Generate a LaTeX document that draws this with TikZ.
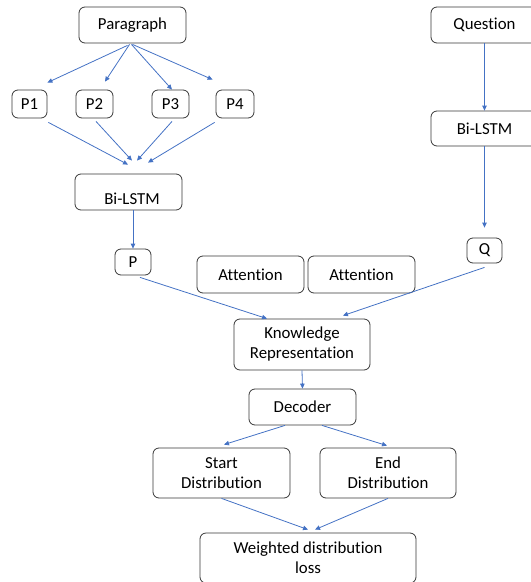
\documentclass[tikz,border=0pt]{standalone}
\usepackage{fontspec}
\setmainfont[Ligatures={NoCommon}]{Carlito}
\usetikzlibrary{arrows.meta,calc}
\definecolor{arrblue}{RGB}{68,114,196}
\definecolor{boxline}{RGB}{55,55,55}
\begin{document}
\begin{tikzpicture}[x=1pt,y=-1pt,
  box/.style={draw=boxline,line width=0.8pt,rounded corners=6pt,inner sep=0pt,
    align=center,font=\fontsize{16.8}{20}\selectfont},
  arr/.style={draw=arrblue,line width=0.8pt,-{Triangle[length=5pt,width=4.5pt]}}]
\useasboundingbox (0,0) rectangle (531,582);
% nodes
\node[box,minimum width=107pt,minimum height=36pt] (para) at (132.5,25) {Paragraph};
\node[box,minimum width=107pt,minimum height=36pt] (ques) at (484.5,25) {Question};
\node[box,minimum width=35pt,minimum height=28pt] (p1) at (29.5,104) {P1};
\node[box,minimum width=37pt,minimum height=28pt] (p2) at (94.5,104) {P2};
\node[box,minimum width=37pt,minimum height=28pt] (p3) at (170.5,104) {P3};
\node[box,minimum width=38pt,minimum height=28pt] (p4) at (235,104) {P4};
\node[box,minimum width=107pt,minimum height=36pt,text height=24pt,text depth=0pt] (bl) at (128.5,192) {\hspace*{7pt}Bi-LSTM};
\node[box,minimum width=107pt,minimum height=35pt] (br) at (484.5,128.5) {Bi-LSTM};
\node[box,minimum width=36pt,minimum height=26pt] (pp) at (133,262) {P};
\node[box,minimum width=35pt,minimum height=25pt] (qq) at (484.5,250.5) {Q};
\node[box,minimum width=107pt,minimum height=37pt] (att1) at (250.5,274.5) {Attention};
\node[box,minimum width=107pt,minimum height=37pt] (att2) at (361.5,274.5) {Attention};
\node[box,minimum width=136pt,minimum height=51pt] (kr) at (302,344.5) {Knowledge\\Representation};
\node[box,minimum width=107pt,minimum height=36pt] (dec) at (302.5,407) {Decoder};
\node[box,minimum width=137pt,minimum height=50pt] (sd) at (221.5,473) {Start\\Distribution};
\node[box,minimum width=136pt,minimum height=50pt] (ed) at (388,473) {End\\Distribution};
\node[box,minimum width=216pt,minimum height=50pt] (wl) at (308,558) {Weighted distribution\\loss};
% connectors
\draw[arr] ($(para.south)+(-5,2)$) -- ($(p1.north east)+(0,-7)$);
\draw[arr] ($(para.south)+(-3,1)$) -- ($(p2.north)+(10.5,-8)$);
\draw[arr] ($(para.south)+(-1,1)$) -- ($(p3.north)+(1.5,0)$);
\draw[arr] ($(para.south)+(0,1)$) -- ($(p4.north west)+(-3,-10)$);
\draw[arr] ($(p1.south east)+(1,4)$) -- ($(bl.north)+(-0.5,-9)$);
\draw[arr] ($(p2.south)+(1.5,3)$) -- ($(bl.north)+(3.5,-13)$);
\draw[arr] ($(p3.south)+(1.5,3)$) -- ($(bl.north)+(8.5,-13)$);
\draw[arr] ($(p4.south west)+(-1,4)$) -- ($(bl.north)+(19.5,-11)$);
\draw[arr] ($(bl.south)+(4.5,0)$) -- (pp.north);
\draw[arr] (ques.south) -- (br.north);
\draw[arr] (br.south) -- ($(qq.north)+(0,-10)$);
\draw[arr] ($(pp.south)+(7,2)$) -- ($(kr.north)+(-35,0)$);
\draw[arr] ($(qq.south)+(0,4)$) -- ($(kr.north)+(41,-3)$);
\draw[arr] (kr.south) -- (dec.north);
\draw[arr] ($(dec.south)+(-17.5,0)$) -- ($(sd.north)+(2.5,-3)$);
\draw[arr] ($(dec.south)+(19.5,0)$) -- ($(ed.north)+(-1,-2)$);
\draw[arr] (sd.south) -- ($(wl.north)+(0,-3)$);
\draw[arr] (ed.south) -- ($(wl.north)+(7,-3)$);
\end{tikzpicture}
\end{document}
